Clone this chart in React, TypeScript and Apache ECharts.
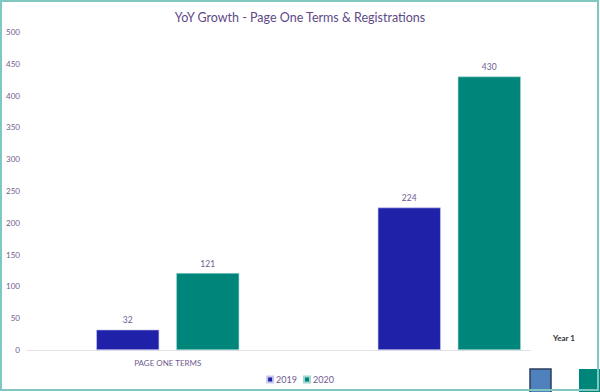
import React, { useEffect, useRef } from "react";
import * as echarts from "echarts";

const categories = ["PAGE ONE TERMS", ""];
const series2019 = [32, 224];
const series2020 = [121, 430];
const seriesNames = ["2019", "2020"];

export default function App() {
  const ref = useRef<HTMLDivElement>(null);
  useEffect(() => {
    if (!ref.current) return;
    const chart = echarts.init(ref.current, undefined, { renderer: "svg" });
    const font = "Lato, 'Noto Sans', sans-serif";
    const labelColor = "#6e5b8f";
    chart.setOption({
      animation: false,
      backgroundColor: "#ffffff",
      textStyle: { fontFamily: font },
      title: {
        text: "YoY Growth - Page One Terms & Registrations",
        left: "center",
        top: 6,
        textStyle: { color: "#5e4a87", fontSize: 12.5, fontWeight: "normal", fontFamily: font },
      },
      legend: {
        bottom: 3,
        left: "center",
        itemWidth: 6,
        itemHeight: 6,
        itemGap: 6,
        icon: "rect",
        textStyle: { color: labelColor, fontSize: 9, padding: [0, 0, 0, -2] },
        data: seriesNames,
      },
      grid: { left: 27, right: 10, top: 32, bottom: 42 },
      xAxis: {
        type: "category",
        data: categories,
        axisLine: { lineStyle: { color: "#e3e1e8", width: 1 } },
        axisTick: { show: false },
        axisLabel: { color: labelColor, fontSize: 8, margin: 9 },
      },
      yAxis: {
        type: "value",
        min: 0,
        max: 500,
        interval: 50,
        splitLine: { show: false },
        axisLine: { show: false },
        axisTick: { show: false },
        axisLabel: { color: labelColor, fontSize: 8, margin: 7 },
      },
      series: [
        {
          name: seriesNames[0],
          type: "bar",
          data: series2019,
          barWidth: 63,
          barGap: "27%",
          itemStyle: { color: "#1f22a9", borderColor: "#c9c8f0", borderWidth: 0.6 },
          label: { show: true, position: "top", color: labelColor, fontSize: 8.5, distance: 5 },
        },
        {
          name: seriesNames[1],
          type: "bar",
          data: series2020,
          barWidth: 63,
          itemStyle: { color: "#00857a", borderColor: "#9fd6d0", borderWidth: 0.6 },
          label: { show: true, position: "top", color: labelColor, fontSize: 8.5, distance: 5 },
        },
      ],
      graphic: [
        { type: "rect", z: 100, shape: { x: 531, y: 320, width: 66, height: 45 }, style: { fill: "#ffffff" } },
        {
          type: "text",
          z: 101,
          x: 553,
          y: 334,
          style: { text: "Year 1", fill: "#333333", font: "bold 8px " + font },
        },
        {
          type: "rect",
          z: 101,
          shape: { x: 530, y: 369, width: 21, height: 24 },
          style: { fill: "#4f81bd", stroke: "#2c3f5e", lineWidth: 1.5 },
        },
        { type: "rect", z: 101, shape: { x: 579, y: 369, width: 21, height: 24 }, style: { fill: "#00857a" } },
        {
          type: "rect",
          z: 102,
          shape: { x: 1, y: 1, width: 597, height: 389 },
          style: { fill: "none", stroke: "#80c7c2", lineWidth: 2 },
        },
      ],
    });
    return () => chart.dispose();
  }, []);
  return <div ref={ref} style={{ width: 600, height: 392, position: "absolute", left: 0, top: 0 }} />;
}
